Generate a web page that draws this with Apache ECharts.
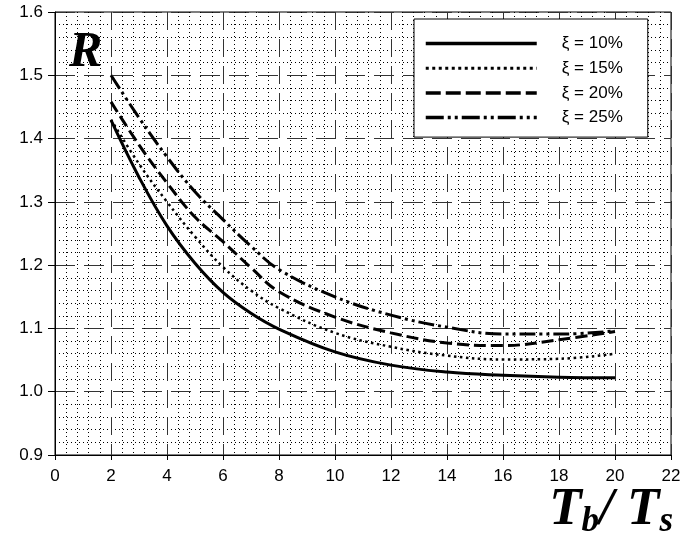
<!DOCTYPE html>
<html>
<head>
<meta charset="utf-8">
<script src="https://cdn.jsdelivr.net/npm/echarts@6/dist/echarts.min.js"></script>
<style>
html,body{margin:0;padding:0;background:#fff;}
#main{width:693px;height:551px;}
</style>
</head>
<body>
<div id="main"></div>
<script>
// Data
const xValues = [2, 3, 4, 5, 6, 7, 8, 10, 12, 14, 16, 18, 20];
const r10 = [1.429, 1.339, 1.262, 1.203, 1.157, 1.124, 1.099, 1.063, 1.042, 1.031, 1.026, 1.023, 1.022];
const r15 = [1.430, 1.360, 1.300, 1.245, 1.197, 1.160, 1.132, 1.093, 1.071, 1.057, 1.051, 1.052, 1.060];
const r20 = [1.458, 1.390, 1.330, 1.276, 1.237, 1.196, 1.158, 1.118, 1.093, 1.077, 1.073, 1.082, 1.095];
const r25 = [1.500, 1.433, 1.371, 1.316, 1.272, 1.230, 1.193, 1.150, 1.121, 1.102, 1.091, 1.091, 1.096];
const seriesNames = ['ξ = 10%', 'ξ = 15%', 'ξ = 20%', 'ξ = 25%'];
const xTicks = [0, 2, 4, 6, 8, 10, 12, 14, 16, 18, 20, 22];
const yTicks = [0.9, 1.0, 1.1, 1.2, 1.3, 1.4, 1.5, 1.6];

function pairs(ys) { return xValues.map((x, i) => [x, ys[i]]); }

const SANS = 'Liberation Sans';
const SERIF = 'Liberation Serif';

const chart = echarts.init(document.getElementById('main'), null, {renderer: 'canvas'});
const styles = [
  {type: 'solid', width: 3},
  {type: [2.5, 3.5], width: 2.5},
  {type: [12, 5], width: 3},
  {type: [16, 4, 3, 4, 3, 4], width: 3}
];
const legendStyles = [
  {type: 'solid', width: 3.5},
  {type: [3, 3.5], width: 3},
  {type: [15, 5], width: 3.5},
  {type: [18, 4, 3, 4, 3, 4], width: 3.5}
];
const allData = [r10, r15, r20, r25];

chart.setOption({
  backgroundColor: '#fff',
  animation: false,
  textStyle: {fontFamily: SANS},
  grid: {left: 55, right: 22, top: 12, bottom: 96, show: true, borderColor: '#000', borderWidth: 1, backgroundColor: 'transparent'},
  title: {
    text: 'R',
    left: 64, top: 23,
    textStyle: {fontFamily: SERIF, fontStyle: 'italic', fontWeight: 'bold', fontSize: 50, color: '#000'}
  },
  graphic: [{
    type: 'text',
    right: 20, top: 484,
    style: {
      text: '{t|T}{s|b}{t|/ T}{s|s}',
      rich: {
        t: {fontFamily: SERIF, fontStyle: 'italic', fontWeight: 'bold', fontSize: 53, fill: '#000'},
        s: {fontFamily: SERIF, fontStyle: 'italic', fontWeight: 'bold', fontSize: 35, fill: '#000', verticalAlign: 'bottom', padding: [22, 0, 0, 0]}
      }
    }
  }],
  legend: {
    orient: 'vertical',
    left: 414, top: 19,
    backgroundColor: '#fff',
    borderColor: '#000', borderWidth: 1, borderRadius: 0,
    padding: [16, 25, 11, 10],
    itemWidth: 111, itemHeight: 14, itemGap: 7.7,
    itemStyle: {opacity: 0},
    textStyle: {fontSize: 17, lineHeight: 14, color: '#000', padding: [0, 0, 0, 20], fontFamily: SANS},
    data: seriesNames.map((n, i) => ({name: n, lineStyle: {color: '#000', width: legendStyles[i].width, type: legendStyles[i].type, cap: 'butt'}}))
  },
  xAxis: {
    type: 'value', min: 0, max: 22, interval: 2,
    axisLine: {show: true, onZero: false, lineStyle: {color: '#000', width: 1}},
    axisTick: {show: true, length: 5, inside: false, lineStyle: {color: '#000'}},
    axisLabel: {color: '#000', fontSize: 17, margin: 13, fontFamily: SANS},
    splitLine: {show: true, lineStyle: {color: '#333', width: 1, type: [18, 9]}},
    minorTick: {show: false, splitNumber: 5},
    minorSplitLine: {show: true, lineStyle: {color: '#000', width: 1, type: [1, 3]}}
  },
  yAxis: {
    type: 'value', min: 0.9, max: 1.6, interval: 0.1,
    axisLine: {show: true, lineStyle: {color: '#000', width: 1}},
    axisTick: {show: true, length: 7, lineStyle: {color: '#000'}},
    axisLabel: {color: '#000', fontSize: 17, margin: 12, fontFamily: SANS, formatter: v => v.toFixed(1)},
    splitLine: {show: true, lineStyle: {color: '#333', width: 1, type: [20, 9]}},
    minorTick: {show: false, splitNumber: 5},
    minorSplitLine: {show: true, lineStyle: {color: '#000', width: 1, type: [1, 3]}}
  },
  series: seriesNames.map((n, i) => ({
    name: n,
    type: 'line',
    smooth: 0.4,
    symbol: 'none',
    data: pairs(allData[i]),
    lineStyle: {color: '#000', width: styles[i].width, type: styles[i].type, cap: 'butt'},
    itemStyle: {color: '#000'},
    z: 5
  }))
});
</script>
</body>
</html>
